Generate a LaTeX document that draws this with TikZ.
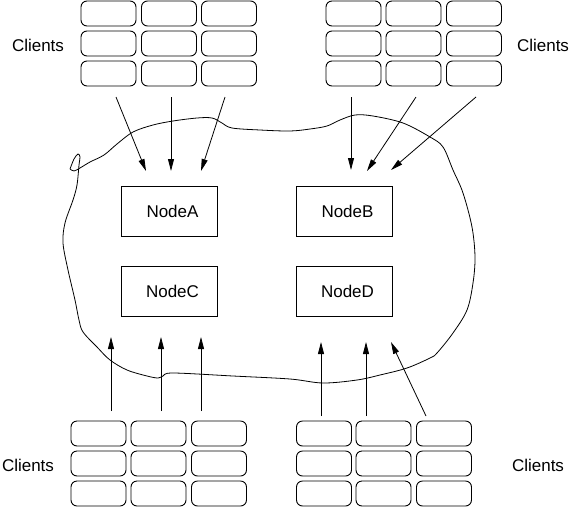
\documentclass[tikz,border=0pt]{standalone}
\usepackage{fontspec}
\setmainfont{Liberation Sans}
\usetikzlibrary{arrows.meta}
\begin{document}
\begin{tikzpicture}[x=1pt,y=-1pt,
  lbl/.style={font=\fontsize{17}{20}\selectfont, inner sep=0pt},
  clientbox/.style={draw, rounded corners=6pt, minimum width=55pt, minimum height=25pt, inner sep=0pt, line width=0.9pt},
  server/.style={draw, minimum width=96pt, minimum height=50pt, inner sep=0pt, line width=0.9pt, font=\fontsize{17}{20}\selectfont},
  conn/.style={line width=0.8pt, -{Triangle[length=12pt,width=6pt]}},
  blob/.style={line width=0.8pt}]
\useasboundingbox (0,0) rectangle (573,507);

% client grids
\foreach \g/\xa/\xb/\xc/\ya/\yb/\yc in {tl/108.5/169/229/13.5/43.5/73.5, tr/353.5/413.5/474/13.5/43.5/73.5, bl/98.5/158.5/219/433.5/463.5/493.5, br/324/383.5/444/433.5/463.5/493.5}{
  \foreach \c/\x in {1/\xa,2/\xb,3/\xc}{
    \foreach \r/\y in {1/\ya,2/\yb,3/\yc}{
      \node[clientbox] (\g\r\c) at (\x,\y) {};
    }
  }
}

% labels
\node[lbl] (ltl) at (38,45) {Clients};
\node[lbl] (ltr) at (543,45) {Clients};
\node[lbl] (lbl) at (28,465) {Clients};
\node[lbl] (lbr) at (538,465) {Clients};

% servers
\node[server] (A) at (169,211) {\hspace{7pt}NodeA};
\node[server] (B) at (344,211) {\hspace{7pt}NodeB};
\node[server] (C) at (169,291) {\hspace{7pt}NodeC};
\node[server] (D) at (344,291) {\hspace{7pt}NodeD};

% blob
\draw[blob] plot[smooth, tension=0.55] coordinates {
 (70,169) (74,171) (80,168) (90,162) (104,155) (117,144) (133,132) (153,125)
 (173,121) (197,118) (212,118) (222,123) (232,128) (260,130) (290,131) (310,129)
 (327,126) (340,120) (355,115) (373,116) (403,123) (430,137) (443,147) (453,170)
 (463,193) (472,227) (475,257) (473,283) (467,310) (453,333) (437,353) (430,358)
 (407,368) (380,375) (357,380) (323,383) (290,379) (233,376) (173,373) (163,376)
 (158,378) (147,376) (127,370) (110,360) (97,347) (83,332) (79,320) (75,300)
 (68,270) (63,243) (65,223) (73,200) (77,185) (79,165) (80,157) (78,154)
 (74,159) (70,169)};

% arrow endpoints
\coordinate (s1) at (116,97);  \coordinate (e1) at (146,171);
\coordinate (s2) at (171,97);  \coordinate (e2) at (171,171);
\coordinate (s3) at (225,97);  \coordinate (e3) at (201,171);
\coordinate (s4) at (351,97);  \coordinate (e4) at (351,170);
\coordinate (s5) at (416,97);  \coordinate (e5) at (367,171);
\coordinate (s6) at (476,97);  \coordinate (e6) at (391,170);
\coordinate (s7) at (111,411); \coordinate (e7) at (111,337);
\coordinate (s8) at (161,411); \coordinate (e8) at (161,337);
\coordinate (s9) at (201,411); \coordinate (e9) at (201,337);
\coordinate (s10) at (321,416); \coordinate (e10) at (321,342);
\coordinate (s11) at (366,416); \coordinate (e11) at (366,342);
\coordinate (s12) at (426,416); \coordinate (e12) at (391,342);

\foreach \i in {1,...,12}{
  \draw[conn] (s\i) -- (e\i);
}
\end{tikzpicture}
\end{document}
